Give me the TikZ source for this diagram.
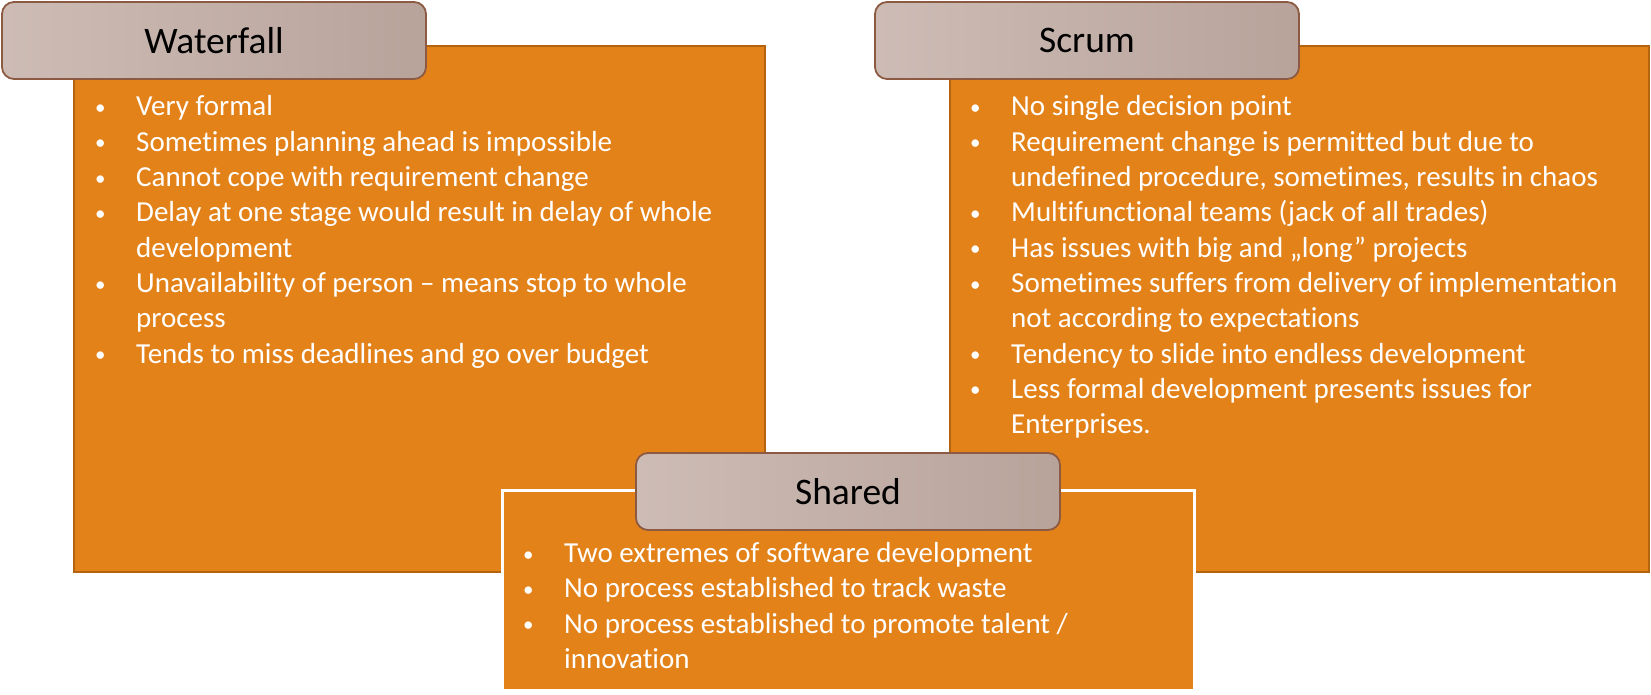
\documentclass[tikz,border=0pt]{standalone}
\usepackage{fontspec}
\setmainfont{Carlito}[Ligatures={NoCommon}]
\definecolor{orfill}{HTML}{E4821A}
\definecolor{ordraw}{HTML}{B4640F}
\definecolor{tleft}{HTML}{CDBCB5}
\definecolor{tright}{HTML}{B8A39B}
\definecolor{tdraw}{HTML}{8C5A42}
\tikzset{
  orbox/.style={rectangle, fill=orfill, draw=ordraw, line width=2.5pt, inner sep=0pt},
  shbox/.style={rectangle, fill=orfill, draw=white, line width=3pt, inner sep=0pt},
  titlebox/.style={rectangle, rounded corners=12pt, left color=tleft, right color=tright, draw=tdraw, line width=1.8pt, inner sep=0pt, font=\fontsize{37.5}{42}\selectfont, text=black},
  bline/.style={anchor=base west, inner sep=0pt, text=white, font=\fontsize{29}{34}\selectfont},
}
\newcommand{\bb}{\makebox[41pt][l]{\raisebox{1.5pt}{\fontsize{21}{24}\selectfont •}}}
\newcommand{\nb}{\makebox[41pt][l]{}}
\begin{document}
\begin{tikzpicture}[x=1pt,y=-1pt]
\useasboundingbox (0,0) rectangle (1651,695);
% boxes
\node[orbox, minimum width=691pt, minimum height=526pt] (wbox) at (419.5,309) {};
\node[orbox, minimum width=699pt, minimum height=526pt] (sbox) at (1299.5,309) {};
\node[titlebox, minimum width=424pt, minimum height=77pt] (wtitle) at (214,40.5) {Waterfall};
\node[titlebox, minimum width=424pt, minimum height=77pt] (stitle) at (1087,40.5) {Scrum};
\node[shbox, minimum width=692pt, minimum height=200pt] (hbox) at (848,590) {};
\node[titlebox, minimum width=424pt, minimum height=77pt] (htitle) at (848,491.5) {Shared};
% waterfall lines
\node[bline] (w1) at (95,116.0) {\bb Very formal};
\node[bline] (w2) at (95,151.3) {\bb Sometimes planning ahead is impossible};
\node[bline] (w3) at (95,186.6) {\bb Cannot cope with requirement change};
\node[bline] (w4) at (95,221.9) {\bb Delay at one stage would result in delay of whole};
\node[bline] (w5) at (95,257.2) {\nb development};
\node[bline] (w6) at (95,292.5) {\bb Unavailability of person -- means stop to whole};
\node[bline] (w7) at (95,327.8) {\nb process};
\node[bline] (w8) at (95,363.1) {\bb Tends to miss deadlines and go over budget};
% scrum lines
\node[bline] (s1) at (970,116.0) {\bb No single decision point};
\node[bline] (s2) at (970,151.3) {\bb Requirement change is permitted but due to};
\node[bline] (s3) at (970,186.6) {\nb undefined procedure, sometimes, results in chaos};
\node[bline] (s4) at (970,221.9) {\bb Multifunctional teams (jack of all trades)};
\node[bline] (s5) at (970,257.2) {\bb Has issues with big and „long” projects};
\node[bline] (s6) at (970,292.5) {\bb Sometimes suffers from delivery of implementation};
\node[bline] (s7) at (970,327.8) {\nb not according to expectations};
\node[bline] (s8) at (970,363.1) {\bb Tendency to slide into endless development};
\node[bline] (s9) at (970,398.4) {\bb Less formal development presents issues for};
\node[bline] (s10) at (970,433.7) {\nb Enterprises.};
% shared lines
\node[bline] (h1) at (523,562.5) {\bb Two extremes of software development};
\node[bline] (h2) at (523,597.8) {\bb No process established to track waste};
\node[bline] (h3) at (523,633.1) {\bb No process established to promote talent /};
\node[bline] (h4) at (523,668.4) {\nb innovation};
\end{tikzpicture}
\end{document}
